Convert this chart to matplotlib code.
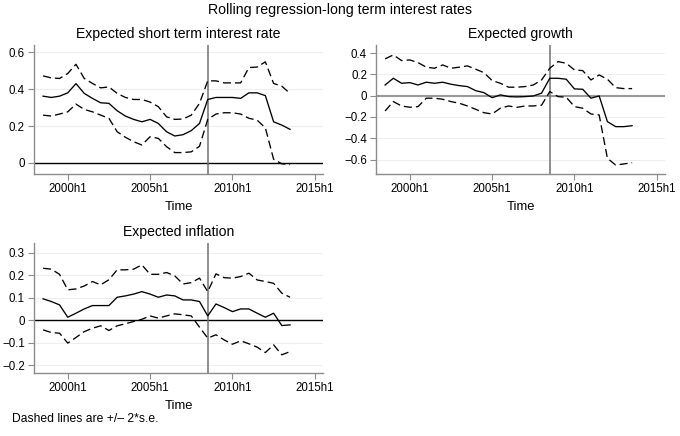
import matplotlib
matplotlib.use("Agg")
import matplotlib.pyplot as plt

plt.rcParams['font.family'] = ['Liberation Sans', 'DejaVu Sans']
plt.rcParams['lines.scale_dashes'] = False

# half-year periods, 1998h2 .. 2013h2
periods = ["1998h2", "1999h1", "1999h2", "2000h1", "2000h2", "2001h1", "2001h2",
           "2002h1", "2002h2", "2003h1", "2003h2", "2004h1", "2004h2", "2005h1",
           "2005h2", "2006h1", "2006h2", "2007h1", "2007h2", "2008h1", "2008h2",
           "2009h1", "2009h2", "2010h1", "2010h2", "2011h1", "2011h2", "2012h1",
           "2012h2", "2013h1", "2013h2"]

# Expected short term interest rate
short_coef = [0.362, 0.355, 0.362, 0.380, 0.430, 0.377, 0.350, 0.326, 0.323, 0.283,
              0.254, 0.236, 0.223, 0.236, 0.214, 0.169, 0.146, 0.153, 0.175, 0.214,
              0.344, 0.355, 0.355, 0.355, 0.350, 0.380, 0.380, 0.365, 0.223, 0.205, 0.182]
short_hi = [0.472, 0.461, 0.458, 0.485, 0.535, 0.458, 0.431, 0.407, 0.412, 0.377,
            0.355, 0.344, 0.344, 0.330, 0.305, 0.250, 0.236, 0.238, 0.259, 0.323,
            0.445, 0.445, 0.434, 0.434, 0.434, 0.517, 0.520, 0.548, 0.431, 0.416, 0.377]
short_lo = [0.259, 0.254, 0.265, 0.277, 0.319, 0.290, 0.277, 0.259, 0.242, 0.169,
            0.139, 0.115, 0.097, 0.142, 0.133, 0.088, 0.056, 0.056, 0.060, 0.090,
            0.236, 0.265, 0.272, 0.272, 0.265, 0.242, 0.232, 0.190, 0.020, -0.005, -0.009]

# Expected growth
growth_coef = [0.100, 0.163, 0.116, 0.122, 0.100, 0.126, 0.116, 0.126, 0.107, 0.094,
               0.085, 0.047, 0.028, -0.019, 0.007, -0.009, -0.012, -0.009, -0.003, 0.023,
               0.163, 0.163, 0.154, 0.063, 0.060, -0.024, -0.003, -0.244, -0.291, -0.291, -0.282]
growth_hi = [0.345, 0.382, 0.329, 0.335, 0.310, 0.267, 0.257, 0.288, 0.257, 0.267,
             0.279, 0.248, 0.216, 0.141, 0.116, 0.079, 0.079, 0.085, 0.100, 0.147,
             0.257, 0.319, 0.304, 0.241, 0.235, 0.147, 0.194, 0.154, 0.075, 0.066, 0.066]
growth_lo = [-0.144, -0.056, -0.097, -0.109, -0.103, -0.024, -0.024, -0.034, -0.056, -0.071,
             -0.097, -0.128, -0.160, -0.172, -0.118, -0.097, -0.110, -0.097, -0.097, -0.090,
             0.038, -0.009, -0.015, -0.103, -0.118, -0.172, -0.181, -0.588, -0.651, -0.641, -0.629]

# Expected inflation
infl_coef = [0.095, 0.083, 0.068, 0.013, 0.031, 0.050, 0.065, 0.065, 0.065, 0.102,
             0.108, 0.116, 0.127, 0.116, 0.102, 0.112, 0.108, 0.090, 0.090, 0.083,
             0.019, 0.072, 0.056, 0.038, 0.050, 0.050, 0.031, 0.013, 0.031, -0.024, -0.021]
infl_hi = [0.231, 0.227, 0.204, 0.135, 0.139, 0.152, 0.172, 0.157, 0.180, 0.224,
           0.224, 0.227, 0.246, 0.204, 0.204, 0.212, 0.197, 0.161, 0.167, 0.187,
           0.127, 0.206, 0.189, 0.187, 0.194, 0.209, 0.179, 0.172, 0.164, 0.120, 0.102]
infl_lo = [-0.043, -0.055, -0.058, -0.102, -0.077, -0.051, -0.036, -0.025, -0.046, -0.025,
           -0.016, -0.006, 0.004, 0.019, 0.009, 0.019, 0.028, 0.024, 0.019, -0.031,
           -0.080, -0.065, -0.088, -0.107, -0.092, -0.105, -0.120, -0.144, -0.110, -0.154, -0.140]

xtick_labels = ["2000h1", "2005h1", "2010h1", "2015h1"]
break_period = "2008h2"


def period_to_num(p):
    return int(p[:4]) + (int(p[-1]) - 1) * 0.5


t = [period_to_num(p) for p in periods]
xticks = [period_to_num(p) for p in xtick_labels]

fig = plt.figure(figsize=(6.8, 4.36), dpi=100)
fig.text(0.5, 0.977, "Rolling regression-long term interest rates",
         ha='center', va='center', fontsize=10.2)

panels = [
    ("Expected short term interest rate", short_coef, short_hi, short_lo,
     [0.05, 0.601, 0.425, 0.296], (-0.06, 0.64), [0, 0.2, 0.4, 0.6], 'black'),
    ("Expected growth", growth_coef, growth_hi, growth_lo,
     [0.553, 0.601, 0.425, 0.296], (-0.735, 0.476), [-0.6, -0.4, -0.2, 0, 0.2, 0.4], '#999999'),
    ("Expected inflation", infl_coef, infl_hi, infl_lo,
     [0.05, 0.144, 0.425, 0.299], (-0.236, 0.344), [-0.2, -0.1, 0, 0.1, 0.2, 0.3], 'black'),
]

for title, coef, hi, lo, rect, ylim, yticks, zcol in panels:
    ax = fig.add_axes(rect)
    for y in yticks:
        ax.axhline(y, color='#eeeeee', lw=0.8, zorder=0)
    ax.axhline(0, color=zcol, lw=1.0 if zcol == 'black' else 1.5, zorder=1)
    ax.axvline(period_to_num(break_period), color='#707070', lw=1.1, zorder=2)
    ax.plot(t, coef, color='black', lw=0.95, zorder=3)
    ax.plot(t, hi, color='black', lw=0.95, dashes=(5.8, 2.9), zorder=3)
    ax.plot(t, lo, color='black', lw=0.95, dashes=(5.8, 2.9), zorder=3)

    ax.set_xlim(1997.95, 2015.5)
    ax.set_ylim(*ylim)
    ax.set_xticks(xticks)
    ax.set_xticklabels(xtick_labels)
    ax.set_yticks(yticks)
    ax.set_yticklabels([("%g" % y).replace('-', '\u2212') for y in yticks])
    for s in ['top', 'right']:
        ax.spines[s].set_visible(False)
    for s in ['left', 'bottom']:
        ax.spines[s].set_color('#8c8c8c')
        ax.spines[s].set_linewidth(1.0)
    ax.tick_params(colors='#8c8c8c', labelcolor='black', labelsize=8.3,
                   length=4, width=0.8, pad=2.5)
    ax.set_title(title, fontsize=10.1, pad=5)
    ax.set_xlabel("Time", fontsize=9.4, labelpad=4)

fig.text(0.018, 0.039, "Dashed lines are +/\u2013 2*s.e.", ha='left', va='center',
         fontsize=8.7)

fig.savefig("out.png", dpi=100)
